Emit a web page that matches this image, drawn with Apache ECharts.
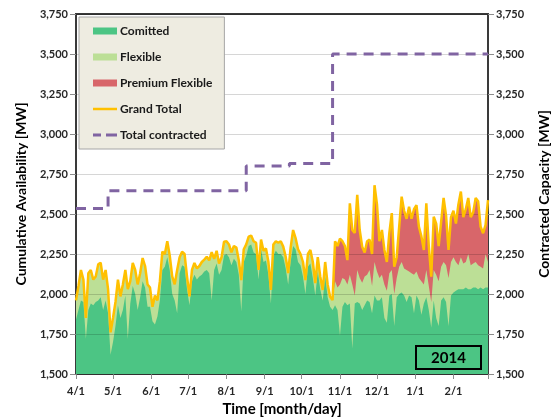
<!DOCTYPE html>
<html>
<head>
<meta charset="utf-8">
<script src="https://cdn.jsdelivr.net/npm/echarts@6/dist/echarts.min.js"></script>
<style>
  html, body { margin: 0; padding: 0; background: #fff; }
  #chart { width: 557px; height: 418px; }
</style>
</head>
<body>
<div id="chart"></div>
<script>
// samples every 2 days starting 2014-04-01 (day 0)
const stepDays = 2

const committed = [
  1840, 1900, 1960, 1950, 1720, 1900, 1940, 1930, 1950, 1960,
  1980, 1900, 1960, 1880, 1620, 1700, 1800, 1930, 1850, 1900,
  1990, 1720, 1940, 2050, 2000, 1900, 1980, 2080, 2040, 1920,
  1920, 1830, 1810, 1860, 1960, 2150, 2170, 2230, 2150, 2000,
  1960, 1880, 2130, 2180, 2170, 2030, 1930, 2080, 2120, 2090,
  2110, 2120, 2140, 2150, 2130, 1960, 2150, 2190, 2120, 2150,
  2240, 2250, 2230, 2180, 2220, 2200, 2120, 1890, 2200, 2240,
  2300, 2310, 2260, 2250, 2090, 2280, 2200, 2210, 2120, 1940,
  2240, 2270, 2250, 2250, 2230, 2160, 2060, 2200, 2300, 2280,
  2200, 2180, 2110, 2000, 2170, 2190, 2100, 1990, 2140, 2030,
  1960, 2110, 1980, 1920, 1900, 1930, 1900, 1740, 1920, 1950,
  1930, 1940, 1660, 1940, 1950, 1940, 1900, 1930, 1960, 1950,
  1880, 1990, 1960, 1960, 1980, 1850, 1820, 1990, 2000, 1800,
  1980, 2000, 2010, 1990, 1950, 1990, 1980, 1880, 1990, 1960,
  1870, 1940, 1980, 1900, 1790, 1960, 1850, 1800, 1960, 1980,
  1950, 1800, 1990, 2010, 2020, 2030, 2030, 2030, 2040, 2030,
  2030, 2040, 2040, 2030, 2040, 2030, 2040, 2040
]
const flexible = [
  120, 150, 190, 140, 130, 230, 210, 160, 160, 225,
  215, 190, 190, 150, 140, 150, 150, 160, 135, 160,
  160, 310, 140, 145, 150, 160, 150, 145, 135, 140,
  120, 90, 180, 100, 120, 115, 80, 100, 90, 110,
  100, 270, 100, 84, 80, 78, 55, 70, 74, 70,
  65, 80, 75, 83, 80, 302, 70, 80, 70, 80,
  87, 80, 80, 80, 80, 90, 90, 197, 80, 70,
  58, 55, 70, 70, 60, 60, 70, 75, 80, 85,
  70, 60, 70, 80, 66, 73, 71, 90, 100, 70,
  80, 70, 90, 87, 80, 85, 100, 78, 90, 80,
  65, 90, 80, 63, 62, 150, 140, 320, 180, 140,
  130, 180, 400, 50, 200, 160, 170, 180, 160, 200,
  170, 210, 180, 140, 140, 210, 200, 140, 150, 200,
  120, 170, 190, 170, 200, 150, 150, 240, 150, 140,
  210, 120, 170, 150, 160, 190, 270, 280, 210, 220,
  230, 300, 210, 220, 180, 150, 200, 160, 160, 220,
  150, 150, 160, 150, 130, 130, 210, 160
]
const premium = [
  0, 0, 0, 0, 0, 0, 0, 0, 0, 0,
  0, 0, 0, 0, 0, 0, 0, 0, 0, 0,
  0, 0, 0, 0, 0, 0, 0, 0, 0, 0,
  0, 0, 0, 0, 0, 0, 0, 0, 0, 0,
  0, 0, 0, 0, 0, 0, 0, 0, 0, 0,
  0, 0, 0, 0, 0, 0, 0, 0, 0, 0,
  0, 0, 0, 0, 0, 0, 0, 0, 0, 0,
  0, 0, 0, 0, 0, 0, 0, 0, 0, 0,
  0, 0, 0, 0, 0, 0, 0, 0, 0, 0,
  0, 0, 0, 0, 0, 0, 0, 0, 0, 0,
  0, 0, 0, 0, 0, 250, 260, 286, 230, 210,
  152, 447, 340, 391, 470, 300, 226, 150, 210, 190,
  200, 480, 420, 230, 280, 215, 180, 250, 356, 170,
  130, 250, 408, 360, 320, 406, 340, 410, 416, 320,
  280, 215, 417, 250, 158, 333, 320, 220, 280, 400,
  310, 175, 280, 290, 240, 380, 410, 290, 330, 350,
  300, 320, 400, 400, 251, 220, 180, 387
]

// contracted capacity steps (day index from 4/1, MW)
const contractDays = [0, 26, 138, 173, 208, 334]
const contractValues = [2535, 2645, 2800, 2815, 3500, 3500]

// month ticks (day index from 4/1)
const monthDays = [0, 30, 61, 91, 122, 153, 183, 214, 244, 275, 306, 334]
const monthLabels = ['4/1', '5/1', '6/1', '7/1', '8/1', '9/1', '10/1', '11/1', '12/1', '1/1', '2/1', '']

const days = committed.map((_, i) => i * stepDays)
const pairs = arr => arr.map((v, i) => [days[i], v])
// cumulative tops of the stacked bands (both axes are value axes, so stack by hand)
const topFlexible = committed.map((v, i) => v + flexible[i])
const grandTotal = topFlexible.map((v, i) => v + premium[i])

const font = 'Lato, "Liberation Sans", sans-serif'
const txt = '#262626'

const chart = echarts.init(document.getElementById('chart'))

const yAxisBase = {
  type: 'value',
  min: 1500,
  max: 3750,
  interval: 250,
  nameLocation: 'middle',
  nameRotate: 90,
  nameTextStyle: { fontSize: 14, fontWeight: 'bold', color: '#000', fontFamily: font },
  axisLine: { show: false },
  axisTick: { show: true, length: 6, lineStyle: { color: '#8c8c8c' } },
  axisLabel: {
    fontSize: 11, fontWeight: 'bold', color: txt, fontFamily: font,
    formatter: v => v.toLocaleString('en-US')
  }
}

const bandSeries = (name, data, color, z) => ({
  name,
  type: 'line',
  data: pairs(data),
  symbol: 'none',
  color,
  z,
  lineStyle: { width: 0 },
  areaStyle: { color, opacity: 1, origin: 'start' },
  emphasis: { disabled: true }
})

const option = {
  animation: false,
  backgroundColor: '#fff',
  grid: {
    left: 76, right: 69, top: 14, bottom: 44,
    containLabel: false,
    outerBoundsMode: 'none',
    show: true, borderColor: '#3a3a3a', borderWidth: 2, backgroundColor: 'transparent'
  },
  legend: {
    orient: 'vertical',
    left: 79,
    top: 17,
    padding: [8, 12, 8, 14],
    itemGap: 14,
    itemWidth: 24,
    itemHeight: 7,
    backgroundColor: '#eeece1',
    borderColor: '#a6a6a6',
    borderWidth: 1,
    textStyle: { fontSize: 12, fontWeight: 'bold', color: '#1a1a1a', fontFamily: font, padding: [0, 0, 0, -2] },
    data: [
      { name: 'Comitted', icon: 'rect' },
      { name: 'Flexible', icon: 'rect' },
      { name: 'Premium Flexible', icon: 'rect' },
      { name: 'Grand Total', icon: 'path://M0,0H24V2.5H0Z' },
      { name: 'Total contracted', icon: 'path://M0,0H8V3H0Z M13,0H24V3H13Z' }
    ]
  },
  xAxis: {
    type: 'value',
    min: 0,
    max: 334,
    name: 'Time [month/day]',
    nameLocation: 'middle',
    nameGap: 27,
    nameTextStyle: { fontSize: 15, fontWeight: 'bold', color: '#000', fontFamily: font },
    splitLine: { show: false },
    axisLine: { show: false },
    axisTick: { show: true, length: 5, customValues: monthDays, lineStyle: { color: '#8c8c8c' } },
    axisLabel: {
      customValues: monthDays.slice(0, 11),
      fontSize: 11, fontWeight: 'bold', color: txt, fontFamily: font, margin: 12,
      formatter: v => monthLabels[monthDays.indexOf(v)] || ''
    }
  },
  yAxis: [
    Object.assign({}, yAxisBase, {
      name: 'Cumulative Availability [MW]',
      nameGap: 48,
      z: 3,
      splitLine: { show: true, lineStyle: { color: 'rgba(0,0,0,0.16)', width: 1 } }
    }),
    Object.assign({}, yAxisBase, {
      name: 'Contracted Capacity [MW]',
      nameGap: 49,
      position: 'right',
      splitLine: { show: false }
    })
  ],
  series: [
    bandSeries('Premium Flexible', grandTotal, '#d8666a', 1),
    bandSeries('Flexible', topFlexible, '#bcdf96', 1.5),
    bandSeries('Comitted', committed, '#4cc584', 2),
    {
      name: 'Grand Total',
      type: 'line',
      data: pairs(grandTotal),
      symbol: 'none',
      color: '#ffc000',
      lineStyle: { width: 2.5, color: '#ffc000' },
      z: 4,
      emphasis: { disabled: true }
    },
    {
      name: 'Total contracted',
      type: 'line',
      yAxisIndex: 1,
      step: 'end',
      data: contractDays.map((d, i) => [d, contractValues[i]]),
      symbol: 'none',
      color: '#8064a2',
      lineStyle: { width: 3, type: [10, 7], color: '#8064a2' },
      z: 4,
      emphasis: { disabled: true }
    }
  ],
  graphic: [
    {
      type: 'rect',
      z: 100,
      shape: { x: 416, y: 346, width: 65, height: 23 },
      style: { fill: 'none', stroke: '#000', lineWidth: 2 }
    },
    {
      type: 'text',
      z: 100,
      x: 448.5,
      y: 358,
      style: { text: '2014', fill: '#000', font: 'bold 15px ' + font, align: 'center', verticalAlign: 'middle' }
    }
  ]
}

chart.setOption(option)
window.addEventListener('resize', () => chart.resize())
</script>
</body>
</html>
